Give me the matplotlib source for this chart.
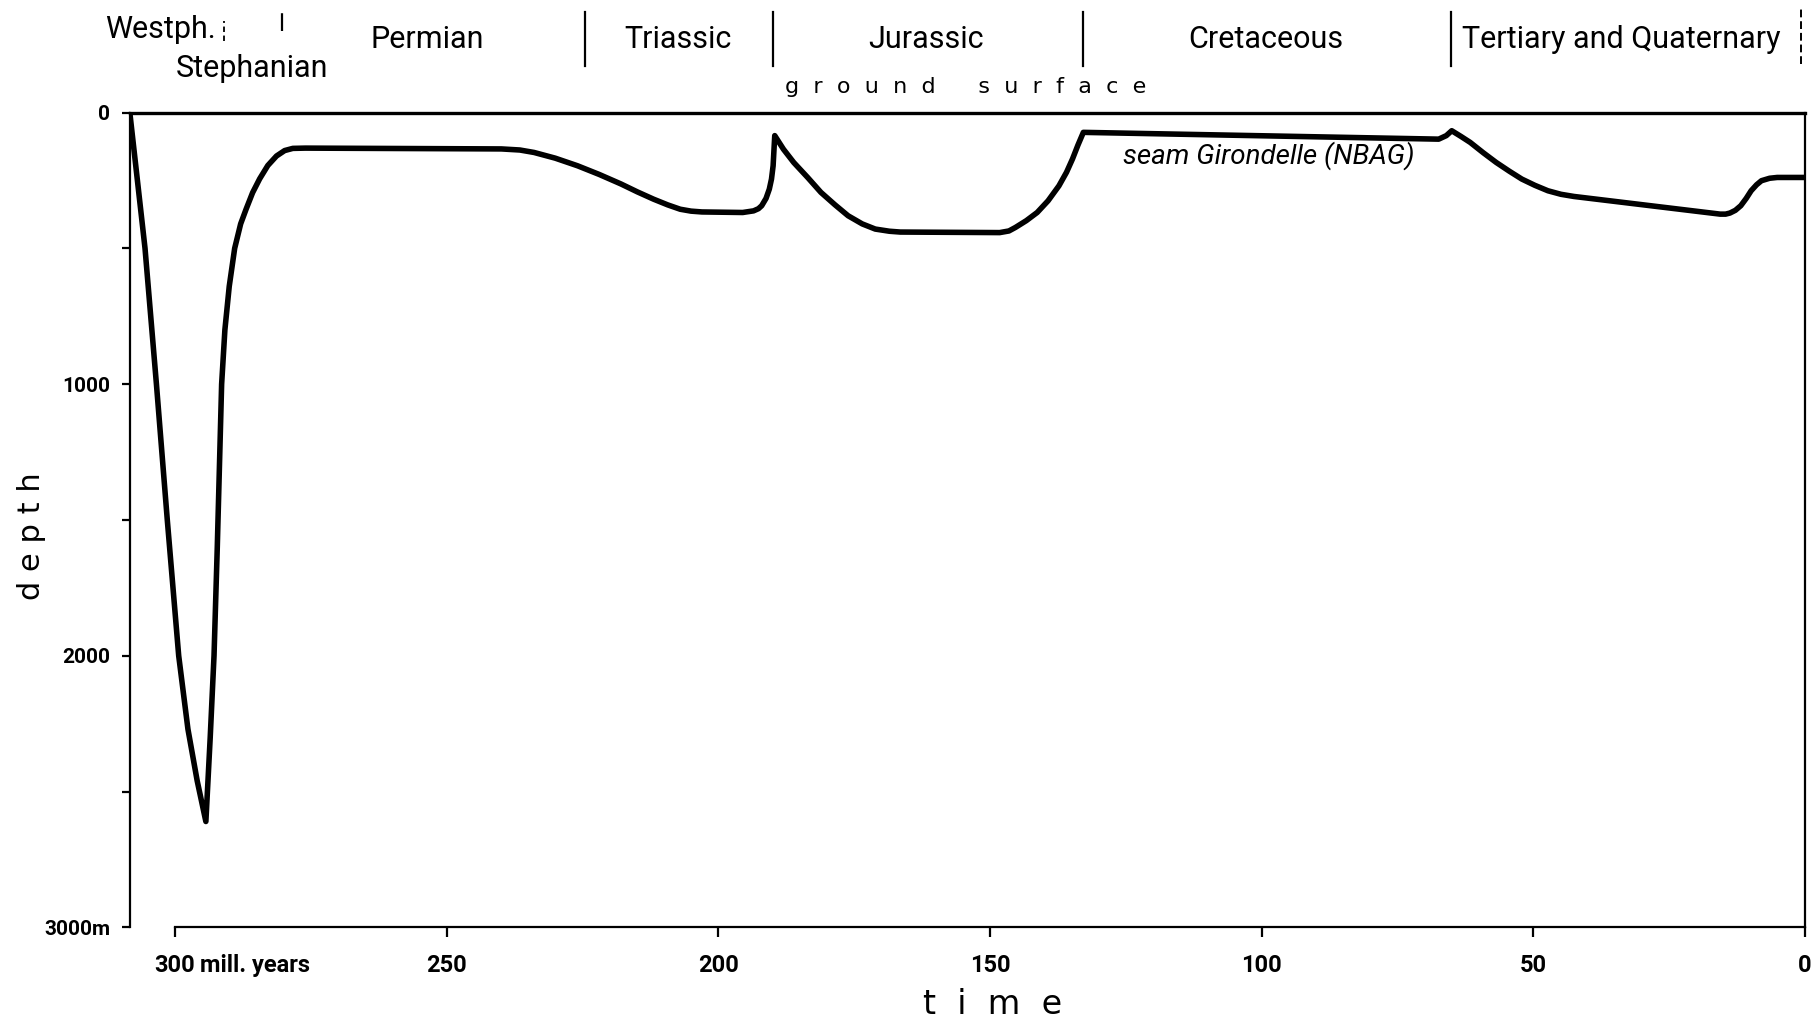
import numpy as np
import matplotlib
matplotlib.use("Agg")
import matplotlib.pyplot as plt
from matplotlib.ticker import FixedLocator

plt.rcParams['font.family'] = ['Roboto', 'DejaVu Sans']

# burial curve of seam Girondelle: age (mill. years) vs depth (m)
age = [308.3, 305.5, 303.4, 301.4, 299.3, 297.6, 295.9, 294.3,
       293.5, 292.8, 292.2, 291.8, 291.4, 290.8, 290.0, 289.0, 287.9, 286.9, 285.7, 284.4,
       282.9, 281.3, 279.8, 278.3, 276.0,
       239.9, 236.5, 233.9, 230.0, 225.9, 221.9, 217.9, 214.9, 211.9, 209.3, 207.0,
       205.0, 203.0, 195.5, 193.5, 192.6, 192.0, 191.2, 190.6, 190.2, 189.9, 189.6,
       188.0, 186.1, 183.5, 181.1, 178.5, 176.1, 173.5, 171.1, 168.5, 166.5, 148.2,
       146.5, 145.3, 143.3, 141.3, 139.3, 137.3, 135.9, 134.8, 133.8, 132.8,
       67.4, 66.0, 65.0, 63.3, 61.6, 59.2, 56.8, 54.4, 52.1, 49.7, 47.3, 44.9, 42.5,
       15.6, 14.6, 13.8, 12.8, 11.8, 10.8, 9.9, 8.9, 8.0, 6.5, 5.1, 0.0]
depth = [0, 500, 1000, 1500, 2000, 2270, 2460, 2610,
         2300, 2000, 1600, 1300, 1000, 800, 640, 500, 410, 356, 295, 244,
         195, 160, 140, 132, 131,
         134, 138, 147, 168, 196, 228, 263, 292, 319, 340, 356,
         363, 366, 368, 362, 354, 343, 316, 282, 245, 196, 85,
         135, 184, 240, 294, 340, 380, 410, 429, 437, 440, 442,
         436, 423, 398, 368, 325, 270, 220, 171, 120, 73,
         98, 85, 67, 88, 110, 148, 184, 216, 245, 268, 288, 301, 309,
         374, 374, 370, 360, 343, 316, 288, 266, 251, 242, 239, 239]

x_ticks = [300, 250, 200, 150, 100, 50, 0]
x_labels = ["300", "250", "200", "150", "100", "50", "0"]
y_ticks = [0, 1000, 2000, 3000]
y_labels = ["0", "1000", "2000", "3000m"]
y_minor = [500, 1500, 2500]

periods = ["Permian", "Triassic", "Jurassic", "Cretaceous", "Tertiary and Quaternary"]
period_mid = [253.5, 207.4, 161.8, 99.2, 33.8]
boundaries = [224.6, 189.9, 132.9, 65.1]

fig = plt.figure(figsize=(18.18, 10.23), dpi=100)
ax = fig.add_axes([0.0714, 0.0934, 0.9214, 0.7966])

ax.plot(age, depth, color='black', lw=4.0, solid_joinstyle='round', solid_capstyle='round')

ax.set_xlim(308.3, 0)
ax.set_ylim(3000, 0)

for s in ['left', 'bottom', 'right']:
    ax.spines[s].set_linewidth(1.6)
ax.spines['top'].set_linewidth(2.4)
ax.spines['bottom'].set_bounds(300, 0)

ax.xaxis.set_major_locator(FixedLocator(x_ticks))
ax.set_xticklabels(x_labels)
ax.yaxis.set_major_locator(FixedLocator(y_ticks))
ax.yaxis.set_minor_locator(FixedLocator(y_minor))
ax.set_yticklabels(y_labels)
ax.tick_params(axis='x', direction='out', length=7, width=1.6, pad=12, labelsize=17)
ax.tick_params(axis='y', which='both', direction='out', length=6, width=1.6, pad=8, labelsize=15)
for t in ax.get_xticklabels() + ax.get_yticklabels():
    t.set_fontweight('bold')

ax.annotate("mill. years", xy=(300, 3000), xytext=(18, -19), textcoords='offset points',
            ha='left', va='top', fontsize=17, fontweight='bold')

# era header
trans = ax.get_xaxis_transform()
for name, xm in zip(periods, period_mid):
    ax.text(xm, 1.090, name, transform=trans, ha='center', va='center', fontsize=22, clip_on=False)
ax.text(302.7, 1.102, "Westph.", transform=trans, ha='center', va='center', fontsize=22, clip_on=False)
ax.text(285.8, 1.054, "Stephanian", transform=trans, ha='center', va='center', fontsize=22, clip_on=False)
for b in boundaries:
    ax.plot([b, b], [1.057, 1.123], transform=trans, color='black', lw=1.6, clip_on=False)
ax.plot([0.8, 0.8], [1.059, 1.128], transform=trans, color='black', lw=1.4, ls=(0, (4, 2)), clip_on=False)
ax.plot([291.0, 291.0], [1.088, 1.112], transform=trans, color='black', lw=1.3, ls=(0, (3, 2)), clip_on=False)
ax.plot([280.3, 280.3], [1.100, 1.128], transform=trans, color='black', lw=1.6, ls=(0, (8, 4, 2, 4)), clip_on=False)

ax.text(154.4, 1.031, "g  r  o  u  n  d      s  u  r  f  a  c  e", transform=trans,
        ha='center', va='center', fontsize=16, family='DejaVu Sans', clip_on=False)

ax.text(98.6, 158, "seam Girondelle (NBAG)", ha='center', va='center', fontsize=20, style='italic')

fig.text(0.5457, 0.018, "t  i  m  e", ha='center', va='center', fontsize=24, family='DejaVu Sans')
fig.text(0.0176, 0.476, "d e p t h", ha='center', va='center', rotation=90, fontsize=22,
         family='DejaVu Sans')

fig.savefig("out.png", dpi=100)
